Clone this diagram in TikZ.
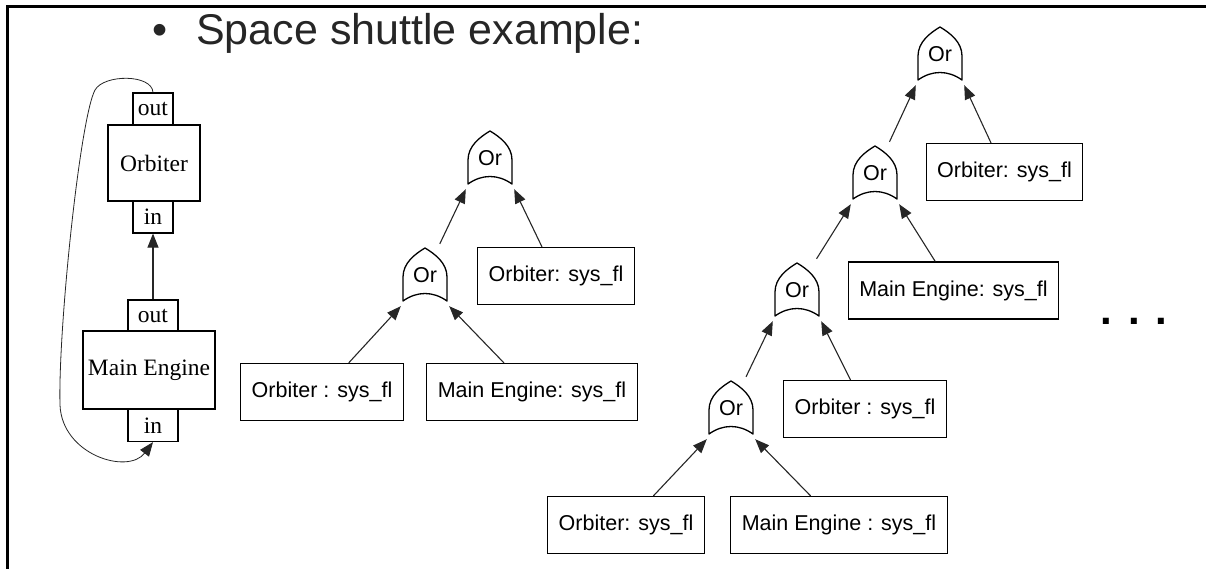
\documentclass[tikz,border=0pt]{standalone}
\usepackage{fontspec}
\setmainfont{Liberation Serif}
\newfontfamily\arialf{Liberation Sans}
\usetikzlibrary{arrows.meta}
\tikzset{
  orgate/.pic={\draw[line width=1.3pt, line join=round] (-22,26) -- (-22,2) .. controls (-22,-12) and (-10,-21) .. (0,-27) .. controls (10,-21) and (22,-12) .. (22,2) -- (22,26) .. controls (8,16) and (-8,16) .. (-22,26) -- cycle;}
}
\begin{document}
\begin{tikzpicture}[x=1pt,y=-1pt,
  every node/.style={inner sep=0pt},
  frame/.style={line width=3pt},
  portbox/.style={draw, line width=1.2pt, font=\fontsize{23.5}{26}\selectfont, minimum height=32pt},
  compbox/.style={draw, line width=1.2pt, font=\fontsize{23.5}{26}\selectfont},
  evbox/.style={draw, line width=1.2pt, font=\arialf\fontsize{21.5}{24}\selectfont, minimum height=57pt, inner xsep=11pt},
  gate/.style={minimum width=48pt, minimum height=62pt, font=\arialf\fontsize{21.5}{24}\selectfont},
  conn/.style={draw=black!85, line width=1.1pt, -{Triangle[length=14pt,width=11pt]}},
]
\useasboundingbox (0,0) rectangle (1206,569);
\draw[frame] (7,569) -- (7,7) -- (1206,7);

% title
\node[anchor=base west, font=\arialf\fontsize{43}{50}\selectfont, text=black!85] (title) at (152,45) {\textbullet\hspace{29pt}Space shuttle example:};

% left block diagram
\node[compbox, minimum width=92pt, minimum height=76pt] (orb) at (154,163) {Orbiter};
\node[portbox, minimum width=40pt] (orbout) at (153,109) {out};
\node[portbox, minimum width=40pt] (orbin) at (153,217) {in};
\node[compbox, minimum width=132pt, minimum height=78pt] (me) at (149,370) {Main Engine};
\node[portbox, minimum width=50pt, minimum height=31pt] (meout) at (153,315.5) {out};
\node[portbox, minimum width=50pt] (mein) at (153,425.5) {in};
\draw[conn] (meout) -- (orbin);
\draw[conn, line width=0.8pt] (orbout.north) .. controls (152,74) and (104,74) .. (95,90) .. controls (80,118) and (58,330) .. (60,405) .. controls (62,455) and (128,475) .. (mein.south);

% middle fault tree
\node[gate] (g1) at (490,158) {Or};
\node[gate] (g2) at (425,275) {Or};
\pic at (g1) {orgate};
\pic at (g2) {orgate};
\node[evbox] (morb) at (556,276) {Orbiter: sys\_fl};
\node[evbox] (morb2) at (322,392) {Orbiter : sys\_fl};
\node[evbox] (mme) at (532,392) {Main Engine: sys\_fl};
\draw[conn] (g2) -- (g1.south west);
\draw[conn] (morb) -- (g1.south east);
\draw[conn] (morb2) -- (g2.south west);
\draw[conn] (mme) -- (g2.south east);

% right fault tree
\node[gate] (ga) at (940,54) {Or};
\node[gate] (gb) at (875,173) {Or};
\node[gate] (gc) at (797,290) {Or};
\node[gate] (gd) at (731,408) {Or};
\pic at (ga) {orgate};
\pic at (gb) {orgate};
\pic at (gc) {orgate};
\pic at (gd) {orgate};
\node[evbox] (rorb1) at (1004.5,172) {Orbiter: sys\_fl};
\node[evbox] (rme1) at (953.5,290.5) {Main Engine: sys\_fl};
\node[evbox] (rorb2) at (865,409) {Orbiter : sys\_fl};
\node[evbox] (rorb3) at (626,525) {Orbiter: sys\_fl};
\node[evbox] (rme2) at (839,525) {Main Engine : sys\_fl};
\draw[conn] (gb) -- (ga.south west);
\draw[conn] (rorb1) -- (ga.south east);
\draw[conn] (gc) -- (gb.south west);
\draw[conn] (rme1) -- (gb.south east);
\draw[conn] (gd) -- (gc.south west);
\draw[conn] (rorb2) -- (gc.south east);
\draw[conn] (rorb3) -- (gd.south west);
\draw[conn] (rme2) -- (gd.south east);

\node[font=\arialf\bfseries\fontsize{42}{42}\selectfont] (dots) at (1134,321) {.\hspace{16pt}.\hspace{16pt}.};
\end{tikzpicture}
\end{document}
